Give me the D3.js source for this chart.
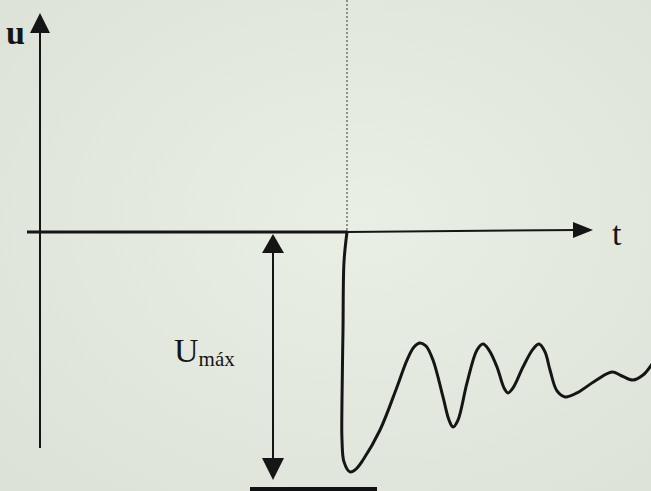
<!DOCTYPE html>
<html>
<head>
<meta charset="utf-8">
<script src="https://cdn.jsdelivr.net/npm/d3@7/dist/d3.min.js"></script>
<style>
  html, body { margin: 0; padding: 0; background: #e6ece2; }
  svg { display: block; }
</style>
</head>
<body>
<div id="chart"></div>
<script>
// ---- data (t in time units, u relative to Umáx) ----
const tValues = [30.7, 30.4, 30.3, 30.2, 30.2, 30.4, 31.0, 31.6, 32.3, 34.0, 35.7, 36.7, 37.4, 38.0, 38.6, 39.3, 40.3, 40.9, 41.3, 41.8, 42.7, 43.7, 44.3, 44.9, 45.7, 46.4, 46.8, 47.3, 48.3, 49.3, 49.9, 50.5, 51.0, 51.7, 52.5, 53.7, 55.5, 57.2, 58.2, 59.3, 60.3, 61.2];
const uValues = [0, -0.126, -0.412, -0.706, -0.874, -0.966, -1.008, -0.996, -0.958, -0.832, -0.651, -0.538, -0.483, -0.466, -0.479, -0.538, -0.693, -0.790, -0.819, -0.790, -0.634, -0.496, -0.471, -0.496, -0.567, -0.655, -0.676, -0.655, -0.567, -0.492, -0.471, -0.504, -0.580, -0.668, -0.693, -0.676, -0.626, -0.588, -0.605, -0.622, -0.601, -0.555];
const eventT = 30.7;
const uMax = -1.0;
const axisLabels = ["u", "t"];
const amplitudeLabel = ["U", "máx"];

const W = 651, H = 491;
const x = d3.scaleLinear().domain([0, 60]).range([40, 640]);
const y = d3.scaleLinear().domain([-1, 0]).range([470, 232]);

const svg = d3.select("#chart").append("svg").attr("width", W).attr("height", H);

const defs = svg.append("defs");
const grad = defs.append("radialGradient").attr("id", "bg").attr("cx", "55%").attr("cy", "45%").attr("r", "75%");
grad.append("stop").attr("offset", "0%").attr("stop-color", "#e9efe5");
grad.append("stop").attr("offset", "100%").attr("stop-color", "#dce2d8");
svg.append("rect").attr("width", W).attr("height", H).attr("fill", "url(#bg)");

const ink = "#151515";
const serif = "'Liberation Serif', 'Times New Roman', serif";

// dotted vertical line at event
svg.append("line")
  .attr("x1", x(eventT)).attr("x2", x(eventT))
  .attr("y1", 0).attr("y2", y(0))
  .attr("stroke", "#555").attr("stroke-width", 1.2)
  .attr("stroke-dasharray", "2,2");

// y axis
const x0 = x(0);
svg.append("line").attr("x1", x0).attr("x2", x0).attr("y1", 30).attr("y2", 448)
  .attr("stroke", ink).attr("stroke-width", 2);
svg.append("path")
  .attr("d", `M${x0},13 L${x0 - 10},33 L${x0 + 10},33 Z`)
  .attr("fill", ink);

// x axis: bold part before event, thin after
svg.append("line").attr("x1", 27).attr("x2", x(eventT)).attr("y1", y(0)).attr("y2", y(0))
  .attr("stroke", ink).attr("stroke-width", 3.2);
svg.append("line").attr("x1", x(eventT)).attr("x2", 577).attr("y1", y(0)).attr("y2", y(0) - 2)
  .attr("stroke", ink).attr("stroke-width", 2);
svg.append("path")
  .attr("d", `M593,${y(0) - 2} L573,${y(0) - 10} L573,${y(0) + 6} Z`)
  .attr("fill", ink);

// axis labels
svg.append("text").attr("x", 6).attr("y", 44)
  .attr("font-family", serif).attr("font-size", 34).attr("font-weight", "bold").attr("fill", ink).text(axisLabels[0]);
svg.append("text").attr("x", 612).attr("y", 245)
  .attr("font-family", serif).attr("font-size", 34).attr("fill", ink).text(axisLabels[1]);

// double arrow Umáx
const ax = 273;
svg.append("line").attr("x1", ax).attr("x2", ax).attr("y1", y(0) + 15).attr("y2", y(uMax) - 5)
  .attr("stroke", ink).attr("stroke-width", 2);
svg.append("path")
  .attr("d", `M${ax},${y(0) + 2} L${ax - 11},${y(0) + 21} L${ax + 11},${y(0) + 21} Z`)
  .attr("fill", ink);
svg.append("path")
  .attr("d", `M${ax},${y(uMax) + 10} L${ax - 11},${y(uMax) - 12} L${ax + 11},${y(uMax) - 12} Z`)
  .attr("fill", ink);

const lab = svg.append("text").attr("x", 174).attr("y", 362)
  .attr("font-family", serif).attr("fill", ink);
lab.append("tspan").attr("font-size", 34).text(amplitudeLabel[0]);
lab.append("tspan").attr("font-size", 21).attr("dy", 4).text(amplitudeLabel[1]);

// curve
const pts = tValues.map((t, i) => [t, uValues[i]]);
const line = d3.line().x(d => x(d[0])).y(d => y(d[1])).curve(d3.curveCatmullRom.alpha(0.5));
svg.append("path").datum(pts).attr("d", line)
  .attr("fill", "none").attr("stroke", ink).attr("stroke-width", 3)
  .attr("stroke-linejoin", "round").attr("stroke-linecap", "round");

// black bar at bottom
svg.append("rect").attr("x", 250).attr("y", 487).attr("width", 127).attr("height", 6)
  .attr("fill", "#111");
</script>
</body>
</html>
